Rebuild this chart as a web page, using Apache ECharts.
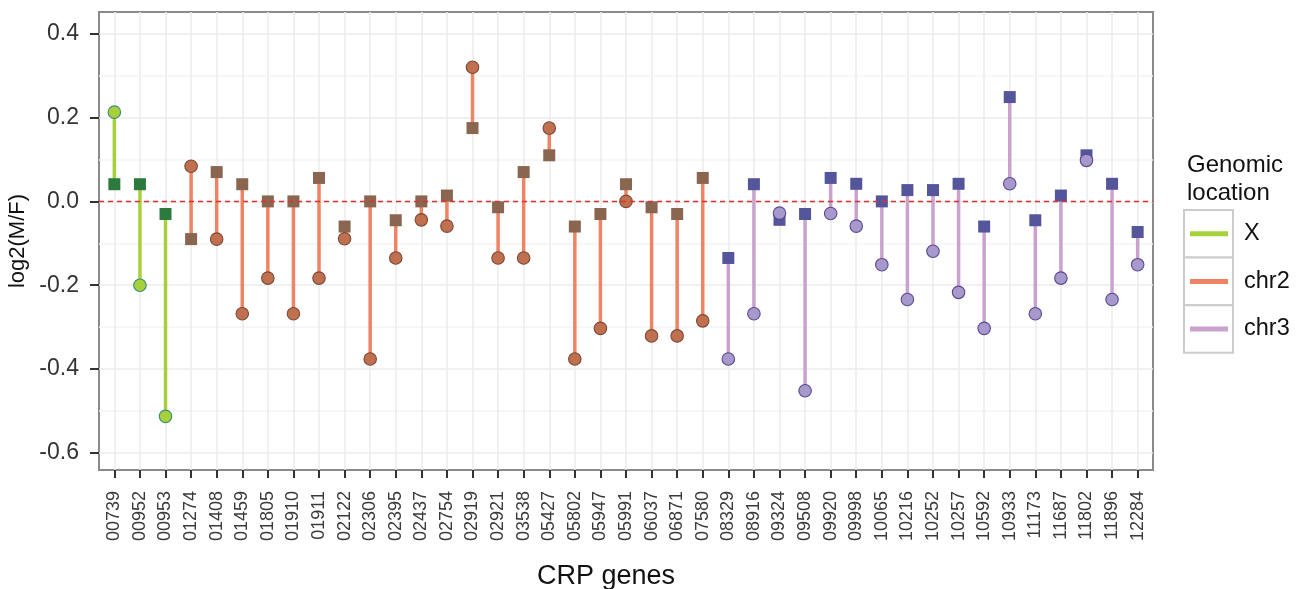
<!DOCTYPE html>
<html>
<head>
<meta charset="utf-8">
<script src="https://cdn.jsdelivr.net/npm/echarts@6/dist/echarts.min.js"></script>
<style>
  html, body { margin: 0; padding: 0; background: #ffffff; }
  #chart { width: 1301px; height: 589px; }
</style>
</head>
<body>
<div id="chart"></div>
<script>
// CRP genes on the x axis
const genes = [
  '00739', '00952', '00953', '01274', '01408', '01459', '01805', '01910', '01911', '02122',
  '02306', '02395', '02437', '02754', '02919', '02921', '03538', '05427', '05802', '05947',
  '05991', '06037', '06871', '07580', '08329', '08916', '09324', '09508', '09920', '09998',
  '10065', '10216', '10252', '10257', '10592', '10933', '11173', '11687', '11802', '11896',
  '12284'
];

// Genomic location of each gene
const geneLocation = [
  'X', 'X', 'X',
  'chr2', 'chr2', 'chr2', 'chr2', 'chr2', 'chr2', 'chr2', 'chr2', 'chr2', 'chr2', 'chr2',
  'chr2', 'chr2', 'chr2', 'chr2', 'chr2', 'chr2', 'chr2', 'chr2', 'chr2', 'chr2',
  'chr3', 'chr3', 'chr3', 'chr3', 'chr3', 'chr3', 'chr3', 'chr3', 'chr3', 'chr3', 'chr3',
  'chr3', 'chr3', 'chr3', 'chr3', 'chr3', 'chr3'
];

// log2(M/F), square markers
const squareValues = [
  0.041, 0.041, -0.030, -0.090, 0.070, 0.041, 0.000, 0.000, 0.056, -0.060,
  0.000, -0.045, 0.000, 0.014, 0.175, -0.014, 0.070, 0.110, -0.060, -0.030,
  0.041, -0.014, -0.030, 0.056, -0.135, 0.041, -0.044, -0.030, 0.056, 0.042,
  0.000, 0.027, 0.027, 0.042, -0.060, 0.249, -0.045, 0.014, 0.110, 0.042,
  -0.073
];

// log2(M/F), circle markers
const circleValues = [
  0.213, -0.200, -0.513, 0.084, -0.090, -0.268, -0.183, -0.268, -0.183, -0.089,
  -0.376, -0.135, -0.044, -0.059, 0.320, -0.135, -0.135, 0.175, -0.376, -0.303,
  0.000, -0.321, -0.321, -0.285, -0.376, -0.268, -0.028, -0.452, -0.029, -0.059,
  -0.151, -0.234, -0.119, -0.217, -0.303, 0.042, -0.268, -0.183, 0.098, -0.234,
  -0.151
];

const locations = ['X', 'chr2', 'chr3'];
const yMajorTicks = [-0.6, -0.4, -0.2, 0.0, 0.2, 0.4];
const yMinorTicks = [-0.5, -0.3, -0.1, 0.1, 0.3];

// styling per location
const lineColor   = { X: '#a7d13b', chr2: '#ee8464', chr3: '#c9a2cd' };
const squareColor = { X: '#2d7a3f', chr2: '#8a6550', chr3: '#55559b' };
const circleColor = { X: '#a7d13b', chr2: '#c0704f', chr3: '#a899cc' };
const circleEdge  = { X: '#3d8a80', chr2: '#7a4a36', chr3: '#5a4891' };

const FONT = '"Liberation Sans", Arial, Helvetica, sans-serif';
const xIdx = genes.map((g, i) => i);

const segData = genes.map((g, i) => [i, squareValues[i], circleValues[i]]);
const squareData = genes.map((g, i) => ({
  value: [i, squareValues[i]],
  itemStyle: { color: squareColor[geneLocation[i]], opacity: 1 }
}));
const circleData = genes.map((g, i) => ({
  value: [i, circleValues[i]],
  itemStyle: { color: circleColor[geneLocation[i]], borderColor: circleEdge[geneLocation[i]], borderWidth: 1.1, opacity: 1 }
}));

const chart = echarts.init(document.getElementById('chart'), null, { renderer: 'canvas' });

const legendTop = 210, keyH = 47.6;
const legendGraphics = [
  {
    type: 'text', left: 1187, top: 151,
    style: { text: 'Genomic\nlocation', font: '24px ' + FONT, fill: '#111', lineHeight: 28 }
  }
];
locations.forEach((loc, k) => {
  const y0 = legendTop + k * keyH;
  legendGraphics.push({
    type: 'rect', shape: { x: 1184, y: y0, width: 49, height: keyH },
    style: { fill: '#ffffff', stroke: '#cccccc', lineWidth: 2 }
  });
  legendGraphics.push({
    type: 'line', shape: { x1: 1190, y1: y0 + keyH / 2, x2: 1228, y2: y0 + keyH / 2 },
    style: { stroke: lineColor[loc], lineWidth: 5 }
  });
  legendGraphics.push({
    type: 'text', x: 1244, y: y0 + keyH / 2,
    style: { text: loc, font: '23.5px ' + FONT, fill: '#111', verticalAlign: 'middle', align: 'left' }
  });
});

const option = {
  animation: false,
  backgroundColor: '#ffffff',
  grid: {
    left: 99, top: 12, width: 1054, height: 458,
    show: true, borderColor: '#8a8a8a', borderWidth: 2, backgroundColor: '#ffffff',
    outerBoundsMode: 'none'
  },
  xAxis: {
    type: 'value', min: -0.6, max: genes.length - 0.4,
    name: 'CRP genes', nameLocation: 'middle', nameGap: 93,
    nameTextStyle: { fontFamily: FONT, fontSize: 27, color: '#111', padding: [0, 40, 0, 0] },
    axisLine: { show: false, onZero: false },
    axisTick: { show: true, inside: false, customValues: xIdx, length: 8, lineStyle: { color: '#333', width: 2 } },
    axisLabel: {
      customValues: xIdx, rotate: 90, margin: 21,
      fontFamily: FONT, fontSize: 18, color: '#3a3a3a',
      formatter: v => genes[Math.round(v)]
    },
    splitLine: { show: true, lineStyle: { color: '#ebebeb', width: 1.5 } }
  },
  yAxis: [
    {
      type: 'value', min: -0.641, max: 0.452,
      name: 'log2(M/F)', nameLocation: 'middle', nameGap: 64, nameRotate: 90,
      nameTextStyle: { fontFamily: FONT, fontSize: 22, color: '#111' },
      axisLine: { show: false, onZero: false },
      axisTick: { show: true, inside: false, customValues: yMajorTicks, length: 9, lineStyle: { color: '#333', width: 2 } },
      axisLabel: {
        customValues: yMajorTicks, margin: 20,
        fontFamily: FONT, fontSize: 23, color: '#333',
        formatter: v => v.toFixed(1)
      },
      splitLine: { show: true, lineStyle: { color: '#ebebeb', width: 1.5 } }
    },
    {
      // minor horizontal grid lines
      type: 'value', min: -0.641, max: 0.452, position: 'left',
      axisLine: { show: false, onZero: false },
      axisTick: { show: false, customValues: yMinorTicks },
      axisLabel: { show: false, customValues: yMinorTicks },
      splitLine: { show: true, lineStyle: { color: '#f4f4f4', width: 1.5 } }
    }
  ],
  graphic: legendGraphics,
  series: [
    {
      // dashed reference line at zero
      type: 'line', data: [], z: 1, silent: true,
      markLine: {
        silent: true, symbol: 'none', label: { show: false },
        lineStyle: { color: '#e0302c', type: [5, 4], width: 1.4, opacity: 1 },
        data: [{ yAxis: 0 }]
      }
    },
    {
      type: 'custom', z: 2, silent: true,
      data: segData,
      encode: { x: 0, y: [1, 2] },
      renderItem: (params, api) => {
        const i = api.value(0);
        const p1 = api.coord([i, api.value(1)]);
        const p2 = api.coord([i, api.value(2)]);
        return {
          type: 'line',
          shape: { x1: p1[0], y1: p1[1], x2: p2[0], y2: p2[1] },
          style: { stroke: lineColor[geneLocation[params.dataIndex]], lineWidth: 3.5 }
        };
      }
    },
    {
      type: 'scatter', z: 3, symbol: 'rect', symbolSize: 12,
      itemStyle: { opacity: 1 },
      data: squareData
    },
    {
      type: 'scatter', z: 4, symbol: 'circle', symbolSize: 12.5,
      itemStyle: { opacity: 1 },
      data: circleData
    }
  ]
};

chart.setOption(option);
</script>
</body>
</html>
